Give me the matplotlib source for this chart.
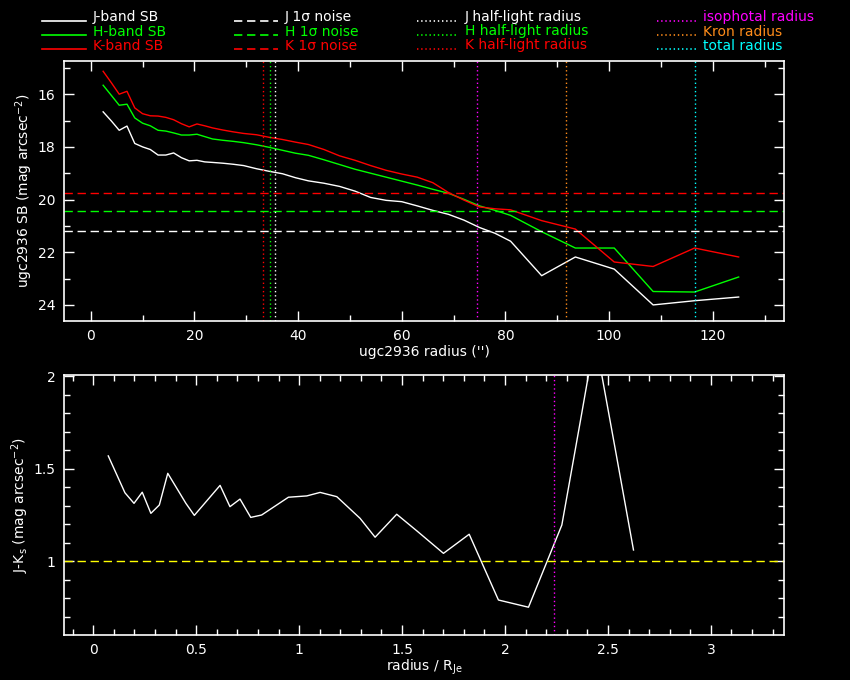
import matplotlib
matplotlib.use("Agg")
import matplotlib.pyplot as plt
from matplotlib.lines import Line2D

plt.rcParams['font.family'] = ['DejaVu Sans']
plt.rcParams['lines.scale_dashes'] = False

# radius grid (arcsec) and surface brightness profiles
radius = [2.4, 4.0, 5.5, 7.0, 8.5, 10.0, 11.5, 13.0, 14.5, 16.0, 17.5, 19.0, 20.5, 22.0,
          23.5, 25.5, 27.5, 29.5, 32.0, 34.5, 37.0, 39.5, 42.0, 45.0, 48.0, 51.0, 54.0,
          57.0, 60.0, 63.0, 66.0, 69.0, 72.0, 75.0, 78.0, 81.0, 87.0, 93.5, 101.0,
          108.5, 116.5, 125.0]
sb_j = [16.67, 17.02, 17.37, 17.21, 17.87, 18.00, 18.10, 18.31, 18.31, 18.23, 18.41, 18.53,
        18.51, 18.57, 18.59, 18.62, 18.66, 18.71, 18.83, 18.93, 19.02, 19.17, 19.29, 19.38,
        19.50, 19.68, 19.92, 20.03, 20.08, 20.24, 20.41, 20.56, 20.78, 21.06, 21.28, 21.58,
        22.89, 22.18, 22.64, 24.00, 23.84, 23.70]
sb_h = [15.66, 16.05, 16.42, 16.38, 16.90, 17.10, 17.20, 17.37, 17.40, 17.47, 17.55, 17.55,
        17.52, 17.61, 17.70, 17.75, 17.79, 17.84, 17.92, 18.02, 18.13, 18.24, 18.32, 18.49,
        18.67, 18.85, 19.00, 19.15, 19.30, 19.45, 19.61, 19.76, 19.99, 20.24, 20.41, 20.60,
        21.22, 21.84, 21.84, 23.49, 23.51, 22.94]
sb_k = [15.13, 15.57, 16.00, 15.89, 16.52, 16.74, 16.82, 16.83, 16.88, 16.97, 17.12, 17.24,
        17.13, 17.20, 17.28, 17.36, 17.43, 17.49, 17.54, 17.64, 17.72, 17.82, 17.91, 18.10,
        18.34, 18.51, 18.71, 18.89, 19.03, 19.15, 19.36, 19.73, 20.02, 20.28, 20.35, 20.39,
        20.80, 21.12, 22.37, 22.54, 21.84, 22.18]

noise = {'J': 21.20, 'H': 20.44, 'K': 19.76}
half_light = {'J': 35.6, 'H': 34.5, 'K': 33.3}
iso_radius = 74.6
kron_radius = 91.6
total_radius = 116.5

# J-Ks colour profile vs radius / R_Je
r_norm = [0.073, 0.154, 0.198, 0.238, 0.280, 0.321, 0.362, 0.450, 0.491, 0.616, 0.664,
          0.713, 0.765, 0.818, 0.948, 1.037, 1.102, 1.183, 1.296, 1.369, 1.474, 1.571,
          1.701, 1.826, 1.968, 2.114, 2.276, 2.372, 2.437, 2.537, 2.624]
j_k = [1.569, 1.370, 1.313, 1.373, 1.259, 1.304, 1.475, 1.313, 1.248, 1.410, 1.295,
       1.336, 1.237, 1.250, 1.346, 1.353, 1.372, 1.349, 1.232, 1.130, 1.254, 1.165,
       1.043, 1.146, 0.791, 0.752, 1.196, 1.795, 2.207, 1.596, 1.061]
iso_norm = 2.240

W, H = 850, 680
colors = {'J': 'white', 'H': '#00ff00', 'K': '#ff0000'}
orange = '#ff8c1a'
dash = (0, (6.0, 3.4))
dot = (0, (1.0, 2.0))
lw = 1.0

fig = plt.figure(figsize=(W / 100, H / 100), dpi=100, facecolor='black')


def style(ax):
    ax.set_facecolor('black')
    for s in ax.spines.values():
        s.set_color('white')
        s.set_linewidth(1.2)
    ax.tick_params(which='both', direction='in', colors='white', top=True, right=True,
                   labelsize=10, width=1.0)
    ax.tick_params(which='major', length=7, pad=6)
    ax.tick_params(which='minor', length=4)


# top panel
ax1 = fig.add_axes([64 / W, 1 - 321 / H, 720 / W, 260 / H])
style(ax1)
ax1.plot(radius, sb_j, color=colors['J'], lw=lw)
ax1.plot(radius, sb_h, color=colors['H'], lw=lw)
ax1.plot(radius, sb_k, color=colors['K'], lw=lw)
for b in ['K', 'H', 'J']:
    ax1.axhline(noise[b], color=colors[b], lw=lw, linestyle=dash)
    ax1.axvline(half_light[b], color=colors[b], lw=lw, linestyle=dot)
ax1.axvline(iso_radius, color='magenta', lw=lw, linestyle=dot)
ax1.axvline(kron_radius, color=orange, lw=lw, linestyle=dot)
ax1.axvline(total_radius, color='cyan', lw=lw, linestyle=dot)
ax1.set_xlim(-5.15, 133.75)
ax1.set_ylim(24.61, 14.74)
xt = [0, 20, 40, 60, 80, 100, 120]
ax1.set_xticks(xt)
ax1.set_xticklabels([str(v) for v in xt])
ax1.set_xticks(range(10, 131, 20), minor=True)
ax1.set_yticks([16, 18, 20, 22, 24])
ax1.set_yticks(range(15, 25, 2), minor=True)
ax1.set_xlabel("ugc2936 radius ('')", color='white', fontsize=10, labelpad=1)
ax1.set_ylabel("ugc2936 SB (mag arcsec$^{-2}$)", color='white', fontsize=10, labelpad=2)

# bottom panel
ax2 = fig.add_axes([64 / W, 1 - 635 / H, 720 / W, 260 / H])
style(ax2)
ax2.plot(r_norm, j_k, color='white', lw=lw)
ax2.axhline(1.0, color='yellow', lw=lw, linestyle=dash)
ax2.axvline(iso_norm, color='magenta', lw=lw, linestyle=dot)
ax2.set_xlim(-0.142, 3.355)
ax2.set_ylim(0.602, 2.006)
ax2.set_xticks([0, 0.5, 1, 1.5, 2, 2.5, 3])
ax2.set_xticklabels(['0', '0.5', '1', '1.5', '2', '2.5', '3'])
ax2.set_xticks([i / 10 for i in range(-1, 34)], minor=True)
ax2.set_yticks([1, 1.5, 2])
ax2.set_yticklabels(['1', '1.5', '2'])
ax2.set_yticks([i / 10 for i in range(7, 21)], minor=True)
ax2.set_xlabel("radius / R$_{\\rm Je}$", color='white', fontsize=10, labelpad=0)
ax2.set_ylabel("J-K$_{\\rm s}$ (mag arcsec$^{-2}$)", color='white', fontsize=10, labelpad=2)

# legend across the top
def fx(x):
    return x / W


def fy(y):
    return 1 - y / H


rows = [20.5, 34.5, 48.5]
legend_cols = [
    (42, 86, '-', [('J-band SB', colors['J']), ('H-band SB', colors['H']), ('K-band SB', colors['K'])]),
    (234, 278, dash, [('J 1σ noise', colors['J']), ('H 1σ noise', colors['H']), ('K 1σ noise', colors['K'])]),
    (417, 458, dot, [('J half-light radius', colors['J']), ('H half-light radius', colors['H']),
                     ('K half-light radius', colors['K'])]),
    (657, 696, dot, [('isophotal radius', 'magenta'), ('Kron radius', orange), ('total radius', 'cyan')]),
]
for x0, x1, ls, items in legend_cols:
    for yy, (txt, c) in zip(rows, items):
        fig.add_artist(Line2D([fx(x0), fx(x1)], [fy(yy), fy(yy)], color=c, lw=1.2,
                              linestyle=ls, transform=fig.transFigure))
        fig.text(fx(x1 + 7), fy(yy + 1), txt, color=c, fontsize=10, va='baseline', ha='left')

fig.savefig('out.png', dpi=100, facecolor='black')
